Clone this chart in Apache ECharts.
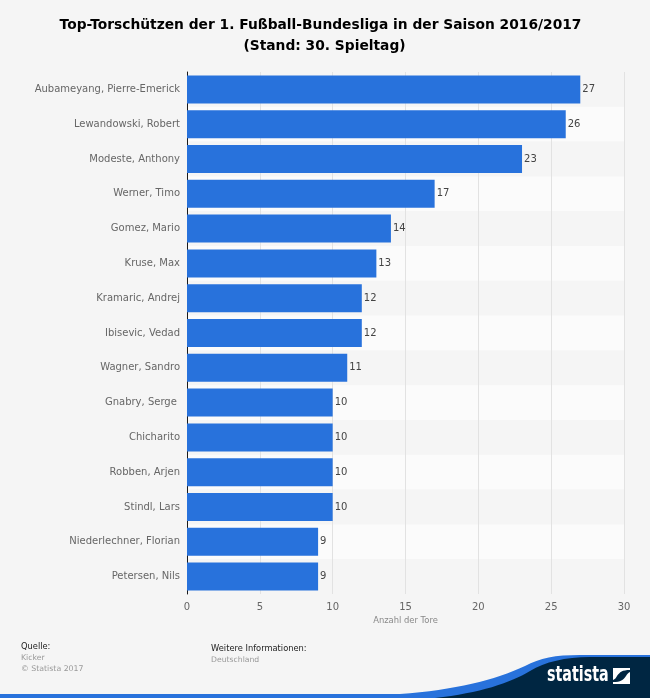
<!DOCTYPE html>
<html><head><meta charset="utf-8">
<style>html,body{margin:0;padding:0;background:#f5f5f5}#c{width:650px;height:698px}</style>
<script src="https://cdn.jsdelivr.net/npm/echarts@6/dist/echarts.min.js"></script>
</head><body><div id="c"></div>
<script>
const players = ["Aubameyang, Pierre-Emerick","Lewandowski, Robert","Modeste, Anthony","Werner, Timo","Gomez, Mario","Kruse, Max","Kramaric, Andrej","Ibisevic, Vedad","Wagner, Sandro","Gnabry, Serge ","Chicharito","Robben, Arjen","Stindl, Lars","Niederlechner, Florian","Petersen, Nils"];
const goals = [27,26,23,17,14,13,12,12,11,10,10,10,10,9,9];
const titleLine1 = "Top-Torschützen der 1. Fußball-Bundesliga in der Saison 2016/2017";
const titleLine2 = "(Stand: 30. Spieltag)";
const axisName = "Anzahl der Tore";
const F = "DejaVu Sans";
const g = echarts.graphic;
g.registerShape('swooshBlue', g.extendPath('M0 694 L400 694 C455 690 495 680 525 666 C540 658 555 655 580 655 L650 655 L650 698 L0 698 Z'));
g.registerShape('swooshNavy', g.extendPath('M435 698 C480 693 510 683 530 671 C545 662 565 657 590 657 L650 657 L650 698 Z'));
g.registerShape('logoMark', g.extendPath('M613 668 L630 668 L630 670 C622 670 620 672 617 676 C616 678 615 679 613 680 Z M630 672 L630 684 L613 684 L613 682 C621 682 623 680 626 676 C627 674 628 673 630 672 Z'));
const chart = echarts.init(document.getElementById('c'), null, {renderer:'canvas'});
chart.setOption({
  animation:false,
  backgroundColor:'#f5f5f5',
  grid:{left:187,right:26,top:72,bottom:104,containLabel:false},
  xAxis:{type:'value',min:0,max:30,interval:5,
    name:axisName,nameLocation:'middle',nameGap:22,
    nameTextStyle:{fontFamily:F,fontSize:8.4,color:'#888'},
    axisLine:{show:false},axisTick:{show:false},
    axisLabel:{fontFamily:F,fontSize:10,color:'#666',margin:8},
    splitLine:{show:true,showMinLine:false,lineStyle:{color:'#e2e2e2',width:1}}},
  yAxis:{type:'category',inverse:true,data:players,
    axisLine:{show:true,lineStyle:{color:'#1a1a1a',width:1}},axisTick:{show:false},
    axisLabel:{fontFamily:F,fontSize:10,color:'#666',margin:7},
    splitLine:{show:false},
    splitArea:{show:true,areaStyle:{color:['#f5f5f5','#fbfbfb']}}},
  series:[{type:'bar',data:goals,barWidth:28,
    itemStyle:{color:'#2872dc'},
    label:{show:true,position:'right',distance:2,fontFamily:F,fontSize:10,color:'#444'}}],
  graphic:[
    {type:'text',x:320.5,y:18.5,style:{text:titleLine1,align:'center',fontFamily:F,fontSize:13.8,fontWeight:'bold',fill:'#000'}},
    {type:'text',x:324.5,y:39.5,style:{text:titleLine2,align:'center',fontFamily:F,fontSize:13.8,fontWeight:'bold',fill:'#000'}},
    {type:'text',x:21,y:643,style:{text:'Quelle:',fontFamily:F,fontSize:8.3,fill:'#222'}},
    {type:'text',x:21,y:654,style:{text:'Kicker',fontFamily:F,fontSize:7.8,fill:'#999'}},
    {type:'text',x:21,y:665,style:{text:'© Statista 2017',fontFamily:F,fontSize:7.8,fill:'#999'}},
    {type:'text',x:211,y:645,style:{text:'Weitere Informationen:',fontFamily:F,fontSize:8.3,fill:'#222'}},
    {type:'text',x:211,y:656,style:{text:'Deutschland',fontFamily:F,fontSize:7.7,fill:'#999'}},
    {type:'swooshBlue',shape:{},style:{fill:'#2872dc'}},
    {type:'swooshNavy',shape:{},style:{fill:'#002642'}},
    {type:'text',x:547,y:664,scaleX:0.65,style:{text:'statista',fontFamily:F,fontSize:22,fontWeight:'bold',fill:'#fff'}},
    {type:'logoMark',shape:{},style:{fill:'#fff'}}
  ]
});
</script></body></html>
